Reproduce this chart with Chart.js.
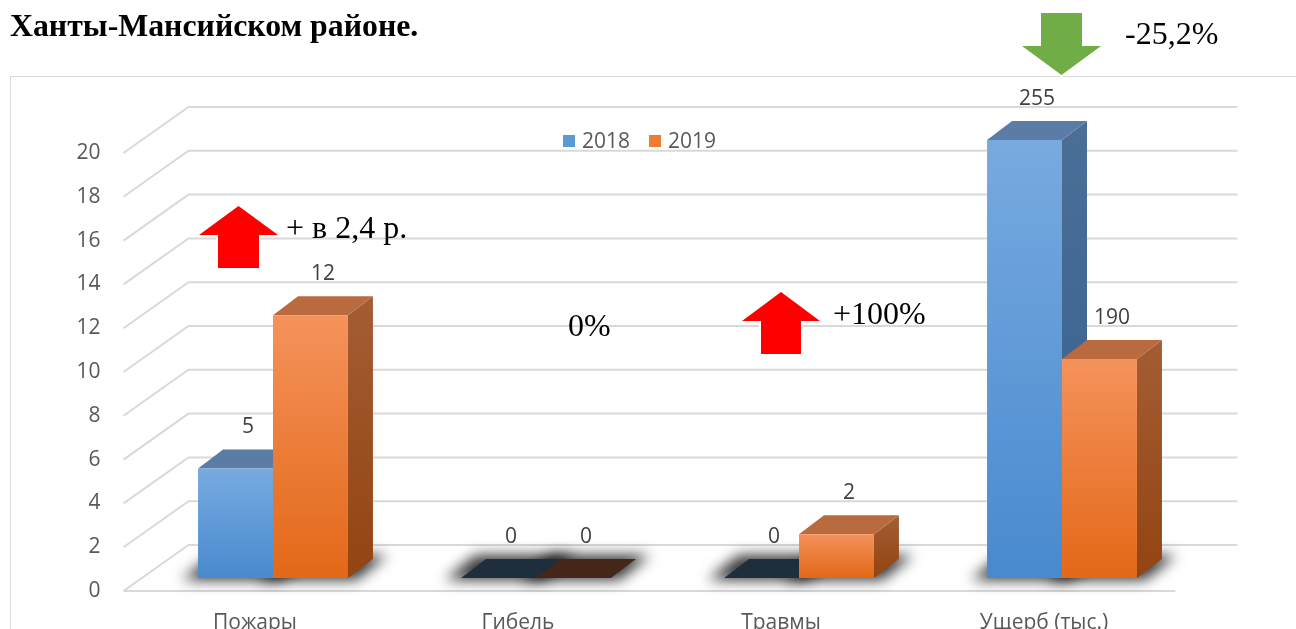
<!DOCTYPE html>
<html>
<head>
<meta charset="utf-8">
<script src="https://cdn.jsdelivr.net/npm/chart.js@4.4.0/dist/chart.umd.min.js"></script>
<style>
html, body { margin: 0; padding: 0; background: #fff; overflow: hidden; }
#wrap { position: relative; width: 1296px; height: 629px; overflow: hidden; }
#frame { position: absolute; left: 10px; top: 76px; width: 1300px; height: 600px; border-left: 1px solid #d9d9d9; border-top: 1px solid #d9d9d9; }
#chart { position: absolute; left: 0; top: 0; }
.heading { position: absolute; left: 10px; top: 10px; font: bold 31.8px "Liberation Serif", serif; line-height: 31px; color: #000; white-space: nowrap; }
.note { position: absolute; font: 32px "Liberation Serif", serif; line-height: 32px; color: #000; white-space: nowrap; }
svg.arrow { position: absolute; overflow: visible; }
svg.arrow polygon { stroke: #fff; stroke-width: 4; paint-order: stroke; }
</style>
</head>
<body>
<div id="wrap">
  <div id="frame"></div>
  <canvas id="chart" width="1296" height="660"></canvas>
  <div class="heading">Ханты-Мансийском районе.</div>

  <svg class="arrow" style="left:199px;top:206px" width="79" height="62">
    <polygon points="0,29 39.5,0 79,29 60,29 60,62 19,62 19,29" fill="#ff0000"/>
  </svg>
  <div class="note" style="left:286px;top:211px">+ в 2,4 р.</div>

  <div class="note" style="left:568px;top:309px">0%</div>

  <svg class="arrow" style="left:742px;top:292px" width="78" height="62">
    <polygon points="0,29 39,0 78,29 59,29 59,62 19,62 19,29" fill="#ff0000"/>
  </svg>
  <div class="note" style="left:833px;top:297px">+100%</div>

  <svg class="arrow" style="left:1022px;top:13px" width="79" height="62">
    <polygon points="19,0 60,0 60,33 79,33 39.5,62 0,33 19,33" fill="#70ad47"/>
  </svg>
  <div class="note" style="left:1125px;top:17px">-25,2%</div>
</div>

<script>
// Chart data
const categories = ['Пожары', 'Гибель', 'Травмы', 'Ущерб (тыс.)'];
const seriesNames = ['2018', '2019'];
const heights2018 = [5, 0, 0, 20];
const heights2019 = [12, 0, 2, 10];
const labels2018 = ['5', '0', '0', '255'];
const labels2019 = ['12', '0', '2', '190'];
const yMin = 0;
const yMax = 20;
const yStep = 2;

// colours of the 3D faces
const palette = [
    { hi: '#78aadf', lo: '#488acf', cap: '#5a7ca6', sideHi: '#4b6f97', sideLo: '#33608e', flat: '#1f2e3d', legend: '#5b9bd5' },
    { hi: '#f5925b', lo: '#e36818', cap: '#b96a3f', sideHi: '#a45d34', sideLo: '#934411', flat: '#45271a', legend: '#ed7d31' }
];

const DX = 25, DY = 19;      // bar depth
const FX = -18, FY = 13;     // bar plane -> front plane
const WX = 65, WY = 46;      // floor / wall depth
const FONT = '"Open Sans", sans-serif';
const FSIZE = 21;

function frontGradient(idx) {
    return (c) => {
        const chart = c.chart;
        const ys = chart.scales.y;
        const col = palette[idx];
        if (!ys || c.raw == null) return col.lo;
        const top = ys.getPixelForValue(c.raw);
        const base = ys.getPixelForValue(0);
        if (!isFinite(top) || !isFinite(base)) return col.lo;
        if (base - top < 1) return 'rgba(0,0,0,0)';
        const g = chart.ctx.createLinearGradient(0, top, 0, base);
        g.addColorStop(0, col.hi);
        g.addColorStop(1, col.lo);
        return g;
    };
}

function poly(ctx, pts, ox) {
    ox = ox || 0;
    ctx.beginPath();
    ctx.moveTo(pts[0][0] + ox, pts[0][1]);
    for (let i = 1; i < pts.length; i++) ctx.lineTo(pts[i][0] + ox, pts[i][1]);
    ctx.closePath();
}

const threeD = {
    id: 'threeD',
    beforeDatasetsDraw(chart) {
        const ctx = chart.ctx;
        const ys = chart.scales.y;
        const area = chart.chartArea;
        const fl = area.left + FX, fr = area.right + FX;

        // walls
        ctx.save();
        ctx.strokeStyle = '#d9d9d9';
        ctx.lineWidth = 2;
        ys.ticks.forEach(t => {
            const py = ys.getPixelForValue(t.value) + FY;
            ctx.beginPath();
            ctx.moveTo(fl, py);
            ctx.lineTo(fl + WX, py - WY);
            ctx.lineTo(fr + WX - 3, py - WY);
            ctx.stroke();
            if (t.value === 0) {
                ctx.beginPath();
                ctx.moveTo(fl, py);
                ctx.lineTo(fr, py);
                ctx.stroke();
            }
        });
        ctx.restore();

        // soft shadows on the floor (shape drawn off-canvas, only its shadow lands)
        const off = 3000;
        chart.data.datasets.forEach((ds, di) => {
            chart.getDatasetMeta(di).data.forEach(el => {
                const L = el.x - el.width / 2, R = el.x + el.width / 2, B = el.base;
                ctx.save();
                ctx.shadowColor = 'rgba(0,0,0,0.8)';
                ctx.shadowBlur = 14;
                ctx.shadowOffsetX = off;
                ctx.shadowOffsetY = 0;
                ctx.fillStyle = '#000';
                poly(ctx, [[L - 16, B + 2], [R + 8, B + 2], [R + DX + 14, B - DY - 4], [L + DX - 10, B - DY - 4]], -off);
                ctx.fill();
                ctx.restore();
            });
        });

        // side and top faces
        chart.data.datasets.forEach((ds, di) => {
            const col = palette[di];
            chart.getDatasetMeta(di).data.forEach(el => {
                const L = el.x - el.width / 2, R = el.x + el.width / 2, B = el.base, T = el.y;
                ctx.save();
                if (B - T >= 1) {
                    const g = ctx.createLinearGradient(0, T - DY, 0, B);
                    g.addColorStop(0, col.sideHi);
                    g.addColorStop(1, col.sideLo);
                    ctx.fillStyle = g;
                    poly(ctx, [[R, T], [R + DX, T - DY], [R + DX, B - DY], [R, B]]);
                    ctx.fill();
                    ctx.fillStyle = col.cap;
                } else {
                    ctx.fillStyle = col.flat;
                }
                poly(ctx, [[L, T], [R, T], [R + DX, T - DY], [L + DX, T - DY]]);
                ctx.fill();
                ctx.restore();
            });
        });
    },
    afterDatasetsDraw(chart) {
        const ctx = chart.ctx;
        ctx.save();
        ctx.font = FSIZE + 'px ' + FONT;
        ctx.textBaseline = 'middle';

        // value labels
        ctx.fillStyle = '#404040';
        ctx.textAlign = 'center';
        chart.data.datasets.forEach((ds, di) => {
            chart.getDatasetMeta(di).data.forEach((el, i) => {
                ctx.fillText(ds.valueLabels[i], el.x + DX / 2, el.y - DY - 22);
            });
        });

        // legend
        ctx.textAlign = 'left';
        let lx = 563;
        const ly = chart.chartArea.top + 1;
        chart.data.datasets.forEach((ds, di) => {
            ctx.fillStyle = palette[di].legend;
            ctx.fillRect(lx, ly - 6, 12, 12);
            ctx.fillStyle = '#595959';
            ctx.fillText(ds.label, lx + 19, ly + 1);
            lx += 19 + ctx.measureText(ds.label).width + 19;
        });
        ctx.restore();
    }
};

new Chart(document.getElementById('chart'), {
    type: 'bar',
    data: {
        labels: categories,
        datasets: [
            { label: seriesNames[0], data: heights2018, valueLabels: labels2018, backgroundColor: frontGradient(0) },
            { label: seriesNames[1], data: heights2019, valueLabels: labels2019, backgroundColor: frontGradient(1) }
        ]
    },
    options: {
        responsive: false,
        animation: false,
        devicePixelRatio: 1,
        layout: { padding: { left: 0, right: 102.5, top: 140, bottom: 0 } },
        datasets: { bar: { categoryPercentage: 0.57, barPercentage: 1.0, borderWidth: 0, clip: false } },
        plugins: { legend: { display: false }, tooltip: { enabled: false } },
        scales: {
            x: {
                grid: { display: false, drawTicks: false },
                border: { display: false },
                ticks: { color: '#595959', font: { size: FSIZE, family: FONT }, padding: 32, labelOffset: FX, maxRotation: 0 },
                afterFit(s) { s.height = 82; }
            },
            y: {
                min: yMin, max: yMax,
                grid: { display: false, drawTicks: false },
                border: { display: false },
                ticks: { stepSize: yStep, color: '#595959', font: { size: FSIZE, family: FONT }, padding: 41, labelOffset: FY },
                afterFit(s) { s.width = 141.5; }
            }
        }
    },
    plugins: [threeD]
});
</script>
</body>
</html>
